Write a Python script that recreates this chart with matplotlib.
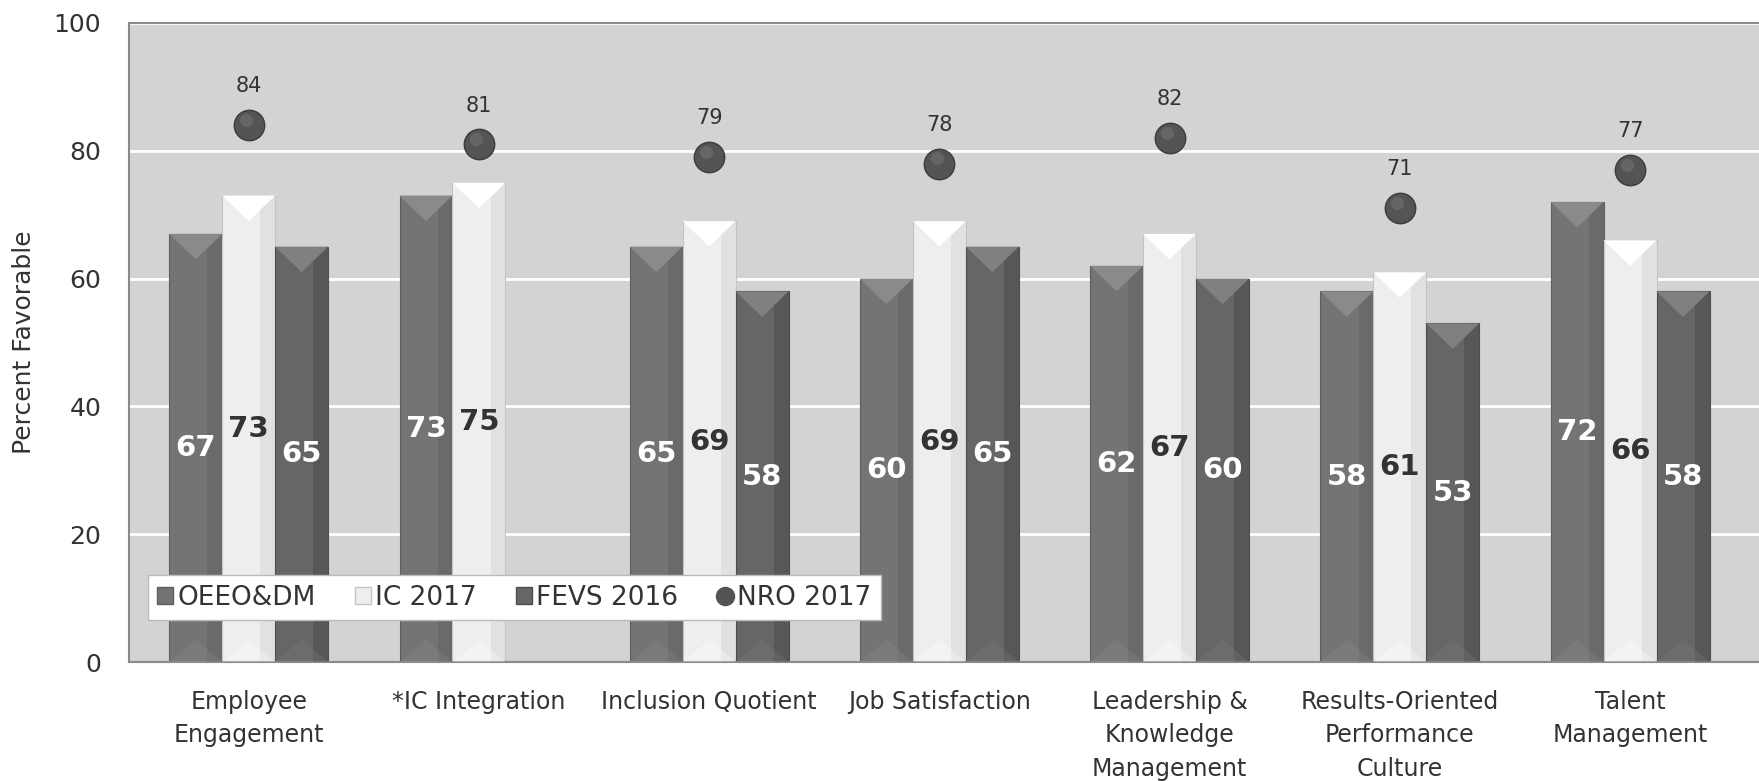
"""Grouped bar chart of favorable survey scores by index."""

import matplotlib.pyplot as plt
import numpy as np
from matplotlib.lines import Line2D
from matplotlib.patches import Patch, Polygon

plt.rcParams["font.family"] = ["DejaVu Sans"]

categories = [
    "Employee\nEngagement",
    "*IC Integration",
    "Inclusion Quotient",
    "Job Satisfaction",
    "Leadership &\nKnowledge\nManagement",
    "Results-Oriented\nPerformance\nCulture",
    "Talent\nManagement",
]
oeeo_dm = [67, 73, 65, 60, 62, 58, 72]
ic_2017 = [73, 75, 69, 69, 67, 61, 66]
fevs_2016 = [65, np.nan, 58, 65, 60, 53, 58]
nro_2017 = [84, 81, 79, 78, 82, 71, 77]

series_names = ["OEEO&DM", "IC 2017", "FEVS 2016", "NRO 2017"]

BG = "#d3d3d3"
DARK1 = "#747474"
LIGHT = "#eeeeee"
DARK2 = "#666666"
DOT = "#545454"
TEXT = "#333333"

W, H = 1759, 781
fig = plt.figure(figsize=(W / 100, H / 100), dpi=100)
ax = fig.add_axes([129 / W, 1 - 662 / H, (W - 129) / W, (662 - 23) / H])
ax.set_facecolor(BG)

x = np.arange(len(categories))
bw = 0.23


def bevel(rects, top_color, base_color, side_alpha):
    """Add the top/bottom triangles and shaded right side to each bar."""
    for r in rects:
        h = r.get_height()
        if not np.isfinite(h) or h <= 0:
            continue
        x0, w = r.get_x(), r.get_width()
        # darker right face
        ax.add_patch(plt.Rectangle((x0 + w * 0.72, 0), w * 0.28, h,
                                   color="black", alpha=side_alpha, lw=0, zorder=3))
        ax.add_patch(Polygon([(x0, h), (x0 + w, h), (x0 + w / 2, h - 4)],
                             closed=True, color=top_color, lw=0, zorder=4))
        ax.add_patch(Polygon([(x0, 0), (x0 + w, 0), (x0 + w / 2, 3.5)],
                             closed=True, color=base_color, lw=0, alpha=0.3, zorder=4))


b1 = ax.bar(x - bw, oeeo_dm, bw, color=DARK1, edgecolor="#5e5e5e", lw=0.8, zorder=2)
b2 = ax.bar(x, ic_2017, bw, color=LIGHT, edgecolor="#c4c4c4", lw=0.8, zorder=2)
fevs = np.array(fevs_2016, dtype=float)
mask = np.isfinite(fevs)
b3 = ax.bar(x[mask] + bw, fevs[mask], bw, color=DARK2, edgecolor="#4e4e4e", lw=0.8, zorder=2)

bevel(b1, "#8a8a8a", "#8a8a8a", 0.08)
bevel(b2, "#ffffff", "#ffffff", 0.05)
bevel(b3, "#808080", "#7c7c7c", 0.14)

# value labels inside the bars
for xs, vals, col in [
    (x - bw, oeeo_dm, "white"),
    (x, ic_2017, TEXT),
    (x + bw, fevs_2016, "white"),
]:
    for xi, v in zip(xs, vals):
        if np.isfinite(v):
            ax.text(xi, v / 2, f"{v:g}", ha="center", va="center",
                    fontsize=21, fontweight="bold", color=col, zorder=6)

# NRO 2017 markers with labels above
ax.scatter(x, nro_2017, s=480, color=DOT, edgecolor="#3c3c3c", lw=1, zorder=7)
ax.scatter(x - 0.012, np.array(nro_2017) + 0.8, s=90, color="#727272",
           lw=0, alpha=0.6, zorder=8)
for xi, v in zip(x, nro_2017):
    ax.annotate(f"{v}", (xi, v), xytext=(0, 28), textcoords="offset points",
                ha="center", va="center", fontsize=15, color=TEXT, zorder=8)

ax.set_ylim(0, 100)
ax.set_xlim(-0.52, 6.56)
ax.set_yticks([0, 20, 40, 60, 80, 100])
ax.yaxis.grid(True, color="white", lw=2, zorder=1)
ax.set_axisbelow(True)
ax.tick_params(axis="y", length=0, pad=20, labelsize=18, labelcolor=TEXT)
ax.set_xticks(x)
ax.set_xticklabels(categories, fontsize=17, color=TEXT, linespacing=1.5, va="top")
ax.tick_params(axis="x", length=0, pad=20)
ax.set_ylabel("Percent Favorable", fontsize=18, color=TEXT)
ax.yaxis.set_label_coords(-0.057, 0.5)

for side in ["top", "left", "bottom"]:
    ax.spines[side].set_color("#8a8a8a")
    ax.spines[side].set_linewidth(1.5)
ax.spines["right"].set_visible(False)

handles = [
    Patch(facecolor=DARK1, edgecolor="#5e5e5e"),
    Patch(facecolor=LIGHT, edgecolor="#c4c4c4"),
    Patch(facecolor=DARK2, edgecolor="#4e4e4e"),
    Line2D([], [], marker="o", ls="none", markersize=13, color=DOT),
]
leg = ax.legend(handles, series_names, ncol=4, loc="lower left",
                bbox_to_anchor=(0.0117, 0.066), borderaxespad=0, fontsize=19,
                frameon=True, fancybox=False, edgecolor="#bbbbbb",
                facecolor="white", framealpha=1, handlelength=0.6,
                handleheight=0.6, handletextpad=0.15, columnspacing=1.5,
                borderpad=0.35)
for t in leg.get_texts():
    t.set_color(TEXT)
leg.set_zorder(10)

fig.savefig("out.png", dpi=100)
